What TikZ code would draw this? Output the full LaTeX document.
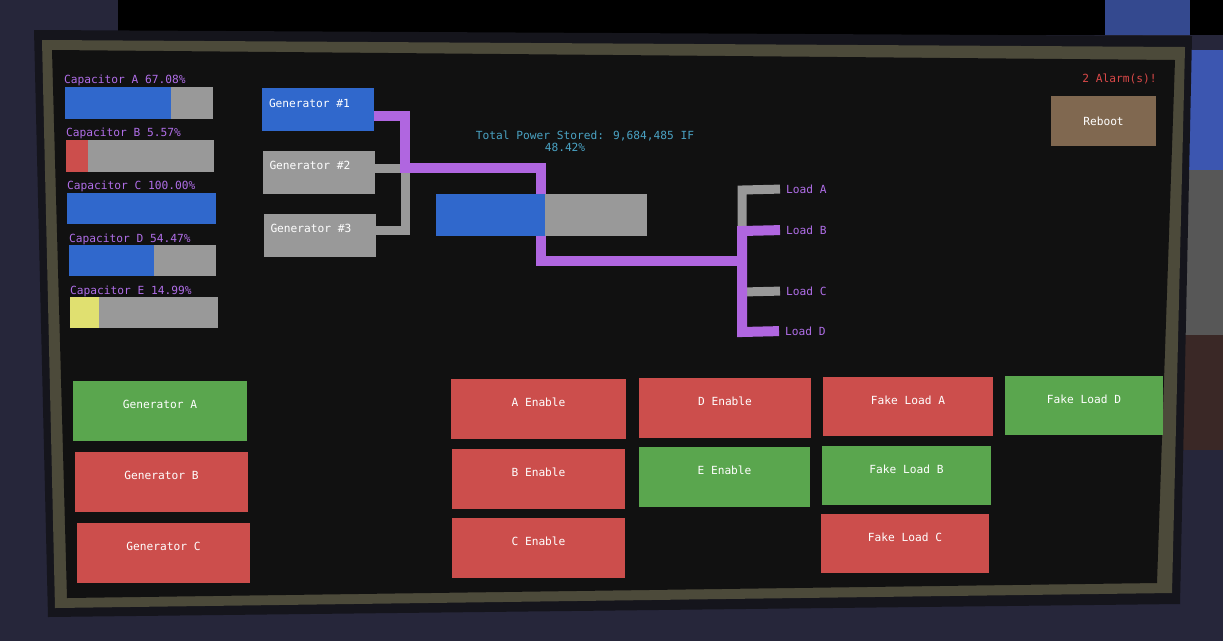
\documentclass[tikz,border=0pt]{standalone}
\usepackage{fontspec}
\newfontfamily\pixfont{DejaVu Sans Mono}
\usetikzlibrary{positioning}
\definecolor{scrbg}{HTML}{111111}
\definecolor{barblue}{HTML}{3068CC}
\definecolor{bargray}{HTML}{999999}
\definecolor{pwr}{HTML}{B066E0}
\definecolor{captxt}{HTML}{B06EE8}
\definecolor{infotxt}{HTML}{4AA3C4}
\definecolor{btnred}{HTML}{CC4E4C}
\definecolor{btngreen}{HTML}{5AA64E}
\definecolor{baryellow}{HTML}{E0E070}
\definecolor{rebootbrown}{HTML}{806850}
\definecolor{alarmred}{HTML}{D84848}
\definecolor{frameol}{HTML}{4C4A3A}
\definecolor{rimdark}{HTML}{15151C}
\definecolor{stonebg}{HTML}{26263A}
\definecolor{iceblue}{HTML}{3C56B0}
\definecolor{icetop}{HTML}{34498F}
\definecolor{rockgray}{HTML}{575757}
\definecolor{dirtbrown}{HTML}{3A2826}

\begin{document}
\begin{tikzpicture}[x=1pt,y=-1pt,
  txt/.style={font=\pixfont\fontsize{11.2}{13}\selectfont,inner sep=0pt},
  caplbl/.style={txt,text=captxt,anchor=west},
  loadlbl/.style={txt,text=captxt,anchor=west,inner sep=2pt},
  btn/.style={txt,text=white,minimum width=#1,minimum height=60pt,
    text height=8pt,text depth=13pt},
  gen/.style={txt,text=white,minimum width=112pt,minimum height=43pt,
    text height=8pt,text depth=13pt},
  pline/.style={draw=pwr,line width=10pt},
  gline/.style={draw=bargray,line width=9pt}]
\useasboundingbox (0,0) rectangle (1223,641);

%world behind the monitor
\fill[stonebg] (0,0) rectangle (1223,641);
\fill[black] (118,0) rectangle (1223,35);
\fill[icetop] (1105,0) rectangle (1190,35);
\fill[iceblue] (1185,50) rectangle (1223,170);
\fill[rockgray] (1185,170) rectangle (1223,335);
\fill[dirtbrown] (1180,335) rectangle (1223,450);

%monitor frame
\fill[rimdark] (34,30) -- (1192,36) -- (1180,604) -- (48,617) -- cycle;
\fill[frameol] (42,40) -- (1185,47) -- (1172,593) -- (55,608) -- cycle;
\fill[scrbg] (52,50) -- (1175,60) -- (1157,583) -- (67,598) -- cycle;

%capacitor A
\node[caplbl] (capA) at (64,80) {Capacitor A 67.08\%};
\fill[bargray] (65,87) rectangle (213,119);
\fill[barblue] (65,87) rectangle (171,119);

%capacitor B
\node[caplbl] (capB) at (66,133) {Capacitor B 5.57\%};
\fill[bargray] (66,140) rectangle (214,172);
\fill[btnred] (66,140) rectangle (88,172);

%capacitor C
\node[caplbl] (capC) at (67,186) {Capacitor C 100.00\%};
\fill[barblue] (67,193) rectangle (216,224);

%capacitor D
\node[caplbl] (capD) at (69,239) {Capacitor D 54.47\%};
\fill[bargray] (69,245) rectangle (216,276);
\fill[barblue] (69,245) rectangle (154,276);

%capacitor E
\node[caplbl] (capE) at (70,291) {Capacitor E 14.99\%};
\fill[bargray] (70,297) rectangle (218,328);
\fill[baryellow] (70,297) rectangle (99,328);

%generators
\node[gen,fill=barblue] (gen1) at (318,109.5) {\makebox[98pt][l]{Generator \#1}};
\node[gen,fill=bargray] (gen2) at (318.5,172) {\makebox[98pt][l]{Generator \#2}};
\node[gen,fill=bargray] (gen3) at (319.5,235) {\makebox[98pt][l]{Generator \#3}};

%junctions
\coordinate (j1) at (405,116);
\coordinate (j2) at (405,168);
\coordinate (j3) at (405,230);
\coordinate (k1) at (541,168);
\coordinate (k2) at (541,261);
\coordinate (bus) at (742,261);
\coordinate (la) at (742,190);
\coordinate (lb) at (742,231);
\coordinate (lc) at (742,292);
\coordinate (ld) at (742,332);

%loads
\node[loadlbl] (loadA) at (784,189) {Load A};
\node[loadlbl] (loadB) at (784,230) {Load B};
\node[loadlbl] (loadC) at (784,291) {Load C};
\node[loadlbl] (loadD) at (783,331) {Load D};

%off lines
\draw[gline] (gen2.east |- j2) -- (j2);
\draw[gline] (gen3.east |- j3) -- (j3) -- (j2);
\draw[gline,shorten <=4pt] (loadA.west) -- (la) -- (lb);
\draw[gline,shorten >=4pt] (lc) -- (loadC.west);

%on lines
\draw[pline] (gen1.east |- j1) -- (j1) -- (j2) -- (k1) -- (k2) -- (bus);
\draw[pline,shorten <=4pt,shorten >=4pt] (loadB.west) -- (lb) -- (ld) -- (loadD.west);

%total storage
\node[txt,text=infotxt] (total) at (585,136) {Total Power Stored: 9,684,485 IF};
\node[txt,text=infotxt] (totalpct) at (565,147) {48.42\%};
\fill[bargray] (436,194) rectangle (647,236);
\fill[barblue] (436,194) rectangle (545,236);

%alarm and reboot
\node[txt,text=alarmred] (alarm) at (1119.5,79) {2 Alarm(s)!};
\node[txt,text=white,fill=rebootbrown,minimum width=105pt,minimum height=50pt] (reboot) at (1103.5,121) {Reboot};

%generator buttons
\node[btn=174pt,fill=btngreen] (genA) at (160,410.5) {Generator A};
\node[btn=173pt,fill=btnred] (genB) at (161.5,482) {Generator B};
\node[btn=173pt,fill=btnred] (genC) at (163.5,552.5) {Generator C};

%enable buttons
\node[btn=175pt,fill=btnred] (enA) at (538.5,408.5) {A Enable};
\node[btn=173pt,fill=btnred] (enB) at (538.5,478.5) {B Enable};
\node[btn=173pt,fill=btnred] (enC) at (538.5,548) {C Enable};
\node[btn=172pt,fill=btnred] (enD) at (725,407.5) {D Enable};
\node[btn=171pt,fill=btngreen] (enE) at (724.5,477) {E Enable};

%fake load buttons
\node[btn=170pt,fill=btnred,minimum height=59pt] (fakeA) at (908,406.5) {Fake Load A};
\node[btn=169pt,fill=btngreen,minimum height=59pt] (fakeB) at (906.5,475.5) {Fake Load B};
\node[btn=168pt,fill=btnred,minimum height=59pt] (fakeC) at (905,543.5) {Fake Load C};
\node[btn=158pt,fill=btngreen,minimum height=59pt] (fakeD) at (1084,405.5) {Fake Load D};
\end{tikzpicture}
\end{document}
